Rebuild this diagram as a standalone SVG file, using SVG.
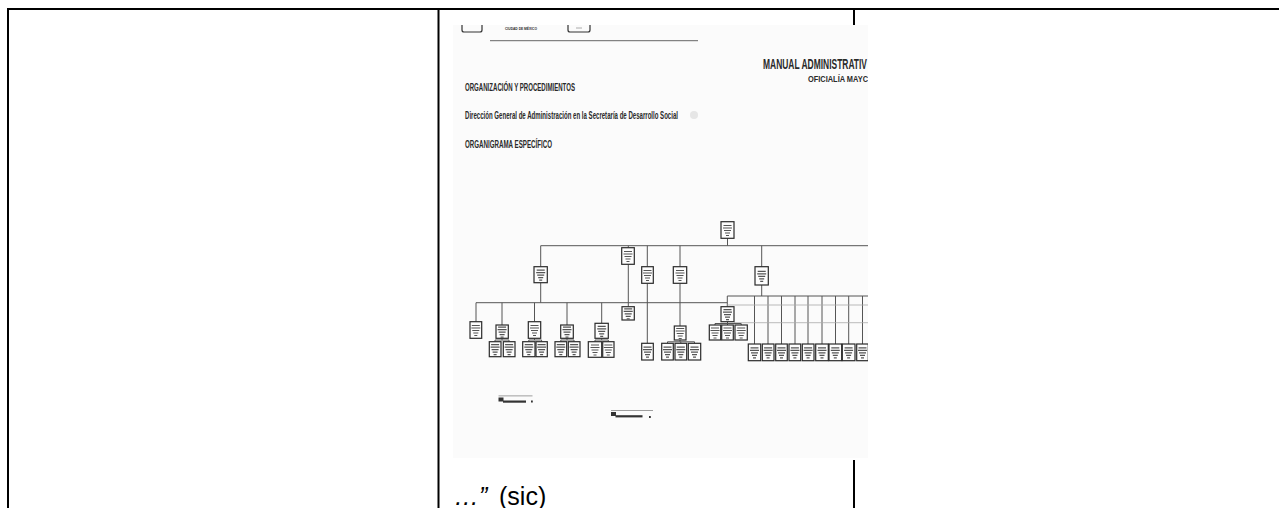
<svg xmlns="http://www.w3.org/2000/svg" width="1279" height="508" viewBox="0 0 1279 508">
<style>
.tbl{stroke:#000;stroke-width:2;fill:none}
.doc{font-family:"Liberation Sans Narrow","Liberation Sans",Arial,sans-serif;font-weight:bold;fill:#2a2a2a}
.bx{fill:#fdfdfd;stroke:#2a2a2a;stroke-width:1.2}
.tx{stroke:#555;stroke-width:1.2;fill:none}
.cn{stroke:#555;stroke-width:1;fill:none}
.cl{stroke:#aaa;stroke-width:0.8;fill:none}
.body{font-family:"Liberation Sans",Arial,sans-serif;font-size:25px;fill:#000}
</style>
<defs>
<clipPath id="page"><rect x="453" y="25" width="415" height="433"/></clipPath>
<g id="t"><path class="tx" d="M-4 -4.5h8M-4.5 -2h9M-3.5 0.5h7M-2.5 3h5M-1.5 5.5h3"/></g>
</defs>
<rect width="1279" height="508" fill="#fff"/>
<g id="table">
<path class="tbl" d="M7 9H1279M8 8V508M438.5 8V508M854 8V25M854 460V508"/>
</g>
<g id="scan" clip-path="url(#page)">
<rect x="453" y="25" width="415" height="433" fill="#fbfbfb"/>
<path d="M462 25v5q0 2 2 2h16q2 0 2-2v-5M568 25v5q0 2 2 2h18q2 0 2-2v-5" stroke="#333" stroke-width="1.2" fill="none"/>
<path d="M576 28h6" stroke="#999" stroke-width="0.8"/>
<text class="doc" x="505" y="29.5" font-size="4" textLength="32" lengthAdjust="spacingAndGlyphs">CIUDAD DE MÉXICO</text>
<path d="M490 40.7H698" stroke="#666" stroke-width="1"/>
<text class="doc" x="763" y="68.5" font-size="15.5" textLength="104" lengthAdjust="spacingAndGlyphs">MANUAL ADMINISTRATIV</text>
<text class="doc" x="808" y="82" font-size="9" textLength="60" lengthAdjust="spacingAndGlyphs">OFICIALÍA MAYC</text>
<text class="doc" x="465" y="91" font-size="10.5" textLength="110" lengthAdjust="spacingAndGlyphs">ORGANIZACIÓN Y PROCEDIMIENTOS</text>
<text class="doc" x="465" y="118.5" font-size="10.5" textLength="213" lengthAdjust="spacingAndGlyphs">Dirección General de Administración en la Secretaría de Desarrollo Social</text>
<ellipse cx="694" cy="115" rx="4" ry="4" fill="#e6e6e6"/>
<text class="doc" x="465" y="148" font-size="10.5" textLength="87" lengthAdjust="spacingAndGlyphs">ORGANIGRAMA ESPECÍFICO</text>

<g id="connectors">
<path class="cn" d="M727.5 238V245.7M540.7 245.7H868M540.7 245.7V266.7M628.3 245.7V247.7M647.3 245.7V266.7M680 245.7V266.7M761.7 245.7V266.7"/>
<path class="cn" d="M628.3 264.3V306.7M647.3 283.3V343.3M680 283.3V326M680 340V341.8M667.5 341.8H694.5M667.5 341.8V343.3M680.8 341.8V343.3M694.5 341.8V343.3"/>
<path class="cn" d="M761.7 285V296M727.3 296H868M727.3 296V306.7M754.5 296V344M768 296V344M781.5 296V344M795 296V344M808 296V344M822 296V344M835.5 296V344M848.7 296V344M862.5 296V344"/>
<path class="cl" d="M727.3 305H868M734 322.7H868"/>
<path class="cn" d="M727.5 321.7V323.5M715 323.5H741.2M715 323.5V325M727.5 323.5V325M741.2 323.5V325"/>
<path class="cn" d="M540.7 282.7V302.7M476 302.7H727M476 302.7V321.7M502 302.7V325M534.5 302.7V321.7M567 302.7V325M601.7 302.7V323.3"/>
<path class="cn" d="M502 338.3V340M495 340H509M495 340V341.7M509 340V341.7M534.5 338.3V340M528.8 340H541.6M528.8 340V341.7M541.6 340V341.7M567 338.3V340M560.8 340H574M560.8 340V341.7M574 340V341.7M601.7 338.3V340M595 340H608.3M595 340V341.7M608.3 340V341.7"/>
</g>

<g id="n-top"><rect class="bx" x="721" y="221.7" width="13" height="16.6"/><use href="#t" x="727.5" y="230"/></g>
<g id="n-a"><rect class="bx" x="534" y="266.7" width="13.3" height="16"/><use href="#t" x="540.7" y="274.7"/></g>
<g id="n-staff"><rect class="bx" x="621.7" y="247.7" width="12.6" height="16.6"/><use href="#t" x="628" y="256"/></g>
<g id="n-staff2"><rect class="bx" x="622" y="306.7" width="12.3" height="13.3"/><use href="#t" x="628.2" y="313.3"/></g>
<g id="n-b"><rect class="bx" x="641.7" y="266.7" width="11.6" height="16.6"/><use href="#t" x="647.5" y="275"/></g>
<g id="n-b1"><rect class="bx" x="641.7" y="343.3" width="11.6" height="16.7"/><use href="#t" x="647.5" y="351.7"/></g>
<g id="n-c"><rect class="bx" x="673.3" y="266.7" width="13.4" height="16.6"/><use href="#t" x="680" y="275"/></g>
<g id="n-c1"><rect class="bx" x="674.3" y="326" width="11.7" height="14"/><use href="#t" x="680.2" y="333"/></g>
<g id="n-c11"><rect class="bx" x="661.7" y="343.3" width="11.6" height="16.7"/><use href="#t" x="667.5" y="351.7"/></g>
<g id="n-c12"><rect class="bx" x="675" y="343.3" width="11.7" height="16.7"/><use href="#t" x="680.8" y="351.7"/></g>
<g id="n-c13"><rect class="bx" x="688.3" y="343.3" width="12.4" height="16.7"/><use href="#t" x="694.5" y="351.7"/></g>
<g id="n-d"><rect class="bx" x="755" y="266.7" width="13.3" height="18.3"/><use href="#t" x="761.7" y="275.8"/></g>
<g id="n-d0"><rect class="bx" x="721" y="306.7" width="13" height="15"/><use href="#t" x="727.5" y="314.2"/></g>
<g id="n-d01"><rect class="bx" x="709.3" y="325" width="11.4" height="15"/><use href="#t" x="715" y="332.5"/></g>
<g id="n-d02"><rect class="bx" x="721.7" y="325" width="11.6" height="15"/><use href="#t" x="727.5" y="332.5"/></g>
<g id="n-d03"><rect class="bx" x="735" y="325" width="12.3" height="15"/><use href="#t" x="741.2" y="332.5"/></g>
<g id="n-e1"><rect class="bx" x="748.3" y="344" width="12.4" height="16.7"/><use href="#t" x="754.5" y="352.3"/></g>
<g id="n-e2"><rect class="bx" x="762.3" y="344" width="11.7" height="16.7"/><use href="#t" x="768.1" y="352.3"/></g>
<g id="n-e3"><rect class="bx" x="775.7" y="344" width="11.6" height="16.7"/><use href="#t" x="781.5" y="352.3"/></g>
<g id="n-e4"><rect class="bx" x="789" y="344" width="11.7" height="16.7"/><use href="#t" x="794.9" y="352.3"/></g>
<g id="n-e5"><rect class="bx" x="802.3" y="344" width="11.7" height="16.7"/><use href="#t" x="808.1" y="352.3"/></g>
<g id="n-e6"><rect class="bx" x="815.7" y="344" width="12.6" height="16.7"/><use href="#t" x="822" y="352.3"/></g>
<g id="n-e7"><rect class="bx" x="829" y="344" width="12.7" height="16.7"/><use href="#t" x="835.3" y="352.3"/></g>
<g id="n-e8"><rect class="bx" x="842.3" y="344" width="12.7" height="16.7"/><use href="#t" x="848.6" y="352.3"/></g>
<g id="n-e9"><rect class="bx" x="856.7" y="344" width="11.6" height="16.7"/><use href="#t" x="862.5" y="352.3"/></g>
<g id="n-l1"><rect class="bx" x="470" y="321.7" width="11.7" height="16.6"/><use href="#t" x="475.8" y="330"/></g>
<g id="n-l2"><rect class="bx" x="496" y="325" width="12.3" height="13.3"/><use href="#t" x="502.1" y="331.7"/></g>
<g id="n-l21"><rect class="bx" x="489.3" y="341.7" width="11.7" height="15"/><use href="#t" x="495.1" y="349.2"/></g>
<g id="n-l22"><rect class="bx" x="503.3" y="341.7" width="11.7" height="15"/><use href="#t" x="509.1" y="349.2"/></g>
<g id="n-l3"><rect class="bx" x="528.3" y="321.7" width="12.4" height="16.6"/><use href="#t" x="534.5" y="330"/></g>
<g id="n-l31"><rect class="bx" x="522.7" y="341.7" width="12.3" height="15"/><use href="#t" x="528.8" y="349.2"/></g>
<g id="n-l32"><rect class="bx" x="536" y="341.7" width="11.3" height="15"/><use href="#t" x="541.6" y="349.2"/></g>
<g id="n-l4"><rect class="bx" x="560.7" y="325" width="12.6" height="13.3"/><use href="#t" x="567" y="331.7"/></g>
<g id="n-l41"><rect class="bx" x="555" y="341.7" width="11.7" height="15"/><use href="#t" x="560.8" y="349.2"/></g>
<g id="n-l42"><rect class="bx" x="568.3" y="341.7" width="11.7" height="15"/><use href="#t" x="574.1" y="349.2"/></g>
<g id="n-l5"><rect class="bx" x="595" y="323.3" width="13.3" height="15"/><use href="#t" x="601.7" y="330.8"/></g>
<g id="n-l51"><rect class="bx" x="588.3" y="341.7" width="13.4" height="15.6"/><use href="#t" x="595" y="349.5"/></g>
<g id="n-l52"><rect class="bx" x="602.7" y="341.7" width="11.3" height="15.6"/><use href="#t" x="608.3" y="349.5"/></g>

<g id="sig1" fill="#333">
<rect x="498.5" y="395.5" width="34" height="0.8" fill="#888"/>
<rect x="498.5" y="397.5" width="5" height="4"/>
<rect x="503" y="400.5" width="23" height="2.2"/>
<rect x="531" y="400.5" width="1.8" height="2"/>
</g>
<g id="sig2" fill="#333">
<rect x="611" y="410" width="42" height="0.8" fill="#888"/>
<rect x="611" y="412" width="5" height="4"/>
<rect x="615.5" y="415.2" width="27" height="2.2"/>
<rect x="649" y="416" width="1.8" height="2"/>
</g>
</g>
<text class="body" x="454" y="505"><tspan font-style="italic">…”</tspan><tspan x="499">(sic)</tspan></text>
</svg>
